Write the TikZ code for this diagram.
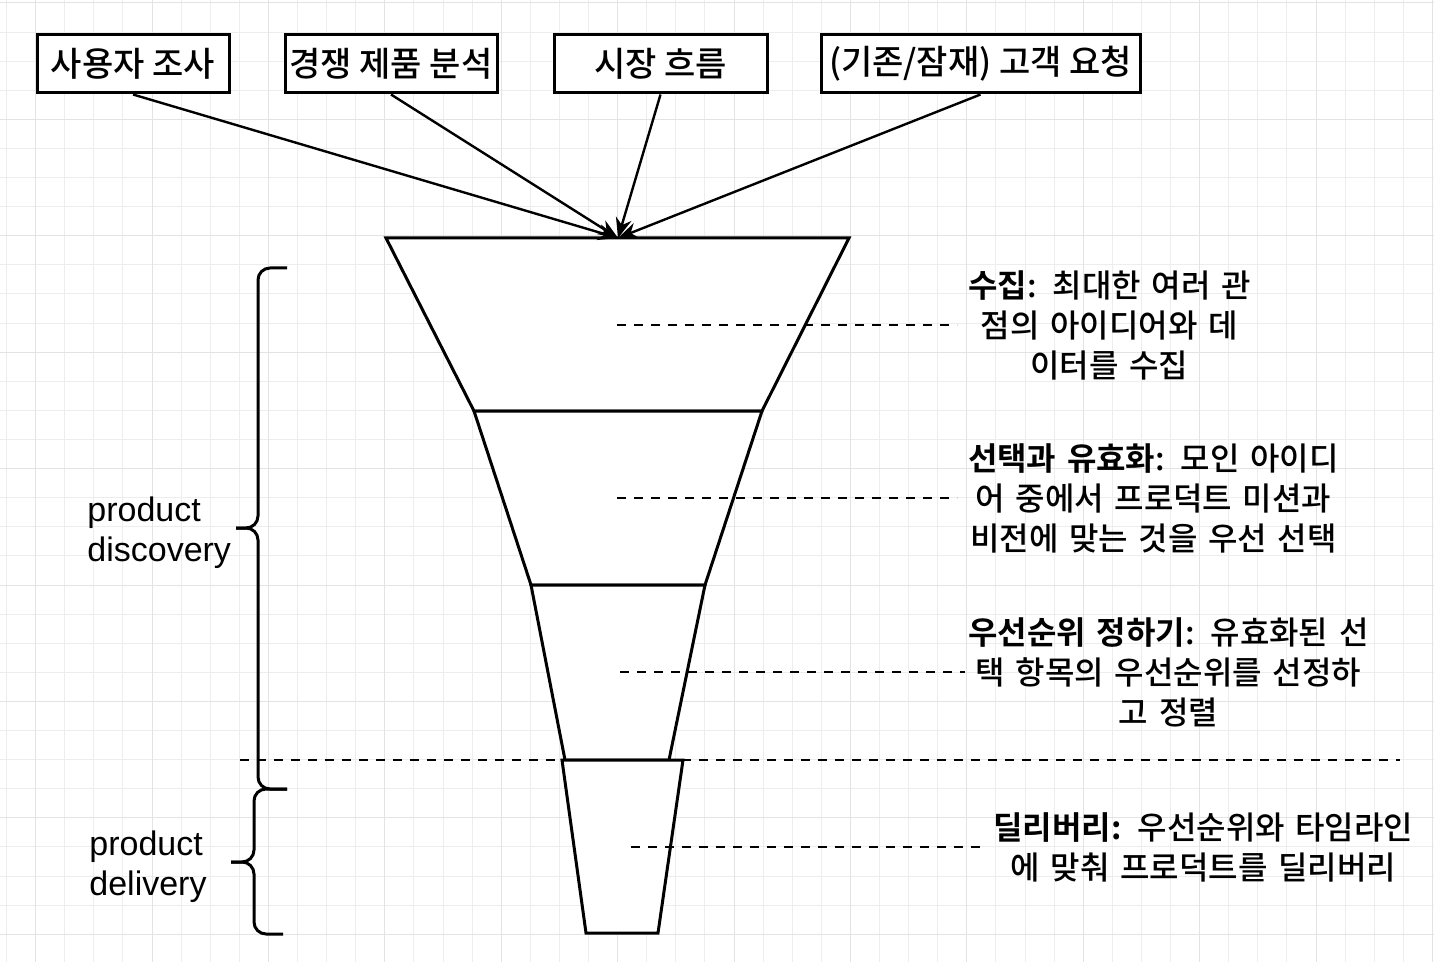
\documentclass[tikz,border=0pt]{standalone}
\usepackage{fontspec}
\setmainfont{Liberation Sans}
\newfontfamily\krfont{Noto Sans CJK KR}[UprightFont=* Medium, BoldFont=* Bold]
\usetikzlibrary{arrows.meta}

\begin{document}
\begin{tikzpicture}[x=0.5pt, y=-0.5pt,
    source/.style={rectangle, draw, line width=1.5pt, fill=white, minimum height=29pt, inner sep=0pt, text centered, font=\krfont\fontsize{17}{20}\selectfont},
    stage/.style={draw, line width=1.5pt, fill=white, line join=miter},
    note/.style={anchor=west, inner sep=0pt, align=center, font=\krfont\fontsize{16}{20}\selectfont},
    phase/.style={anchor=west, inner sep=0pt, align=left, font=\fontsize{17}{20}\selectfont},
    guide/.style={dash pattern=on 4.5pt off 4pt, line width=1.4pt},
    feed/.style={-{Stealth[length=10pt, width=8pt]}, line width=1.2pt},
    bracket/.style={line width=1.5pt, rounded corners=6pt},
    gridminor/.style={black!7, line width=0.5pt},
    gridmajor/.style={black!11, line width=0.5pt}]

\useasboundingbox (0,0) rectangle (1434,962);

% Background grid
\fill[white] (0,0) rectangle (1434,962);
\foreach \i in {0,...,49} \draw[gridminor] ({6.5+29.1*\i},0) -- ({6.5+29.1*\i},962);
\foreach \j in {0,...,33} \draw[gridminor] (0,{3+29.1*\j}) -- (1434,{3+29.1*\j});
\foreach \i in {0,...,12} \draw[gridmajor] ({35.6+116.4*\i},0) -- ({35.6+116.4*\i},962);
\foreach \j in {0,...,8} \draw[gridmajor] (0,{3+116.4*\j}) -- (1434,{3+116.4*\j});

% Phase split
\coordinate (splitL) at (240,760);
\coordinate (splitR) at (1400,760);
\draw[guide] (splitL) -- (splitR);

% Funnel
\draw[stage] (386,238) -- (849,238) -- (762,411) -- (474,411) -- cycle;
\draw[stage] (474,411) -- (762,411) -- (705,585) -- (531,585) -- cycle;
\draw[stage] (531,585) -- (705,585) -- (669,760) -- (565,760) -- cycle;
\draw[stage] (562,760) -- (683,760) -- (658,933) -- (586,933) -- cycle;
\coordinate (ftop) at (618,238);
\coordinate (mid1) at (617,325);
\coordinate (mid2) at (617,498);
\coordinate (mid3) at (620,672);
\coordinate (mid4) at (631,847);

% Input nodes
\node[source, minimum width=96pt] (survey) at (133,64) {사용자 조사};
\node[source, minimum width=106pt] (rivals) at (391,64) {경쟁 제품 분석};
\node[source, minimum width=106.5pt] (trend) at (660.5,64) {시장 흐름};
\node[source, minimum width=159.5pt] (request) at (980.5,64) {(기존/잠재) 고객 요청};

% Stage notes
\node[note, text width=152pt] (collect) at (957,325) {\textbf{수집}: 최대한 여러 관\\점의 아이디어와 데\\이터를 수집};
\node[note, text width=196pt] (select) at (957,498) {\textbf{선택과 유효화}: 모인 아이디\\어 중에서 프로덕트 미션과\\비전에 맞는 것을 우선 선택};
\node[note, text width=203pt] (rank) at (965,672) {\textbf{우선순위 정하기}: 유효화된 선\\택 항목의 우선순위를 선정하\\고 정렬};
\node[note, text width=223pt] (ship) at (980,847) {\textbf{딜리버리:} 우선순위와 타임라인\\에 맞춰 프로덕트를 딜리버리};

% Phase labels and brackets
\node[phase] (disc) at (87,533) {product\\discovery};
\node[phase] (deli) at (89,867) {product\\delivery};
\draw[bracket] (287,268) -- (258,268) -- (258,528) -- (236,528);
\draw[bracket] (236,528) -- (258,528) -- (258,789) -- (287,789);
\draw[bracket] (287,789) -- (254,789) -- (254,862) -- (231,862);
\draw[bracket] (231,862) -- (254,862) -- (254,934) -- (283,934);

% Arrows
\draw[feed] (survey.south) -- (ftop);
\draw[feed] (rivals.south) -- (ftop);
\draw[feed] (trend.south) -- (ftop);
\draw[feed] (request.south) -- (ftop);
\draw[guide] (mid1) -- (collect.west);
\draw[guide] (mid2) -- (select.west);
\draw[guide] (mid3) -- (rank.west);
\draw[guide] (mid4) -- (ship.west);

\end{tikzpicture}
\end{document}
